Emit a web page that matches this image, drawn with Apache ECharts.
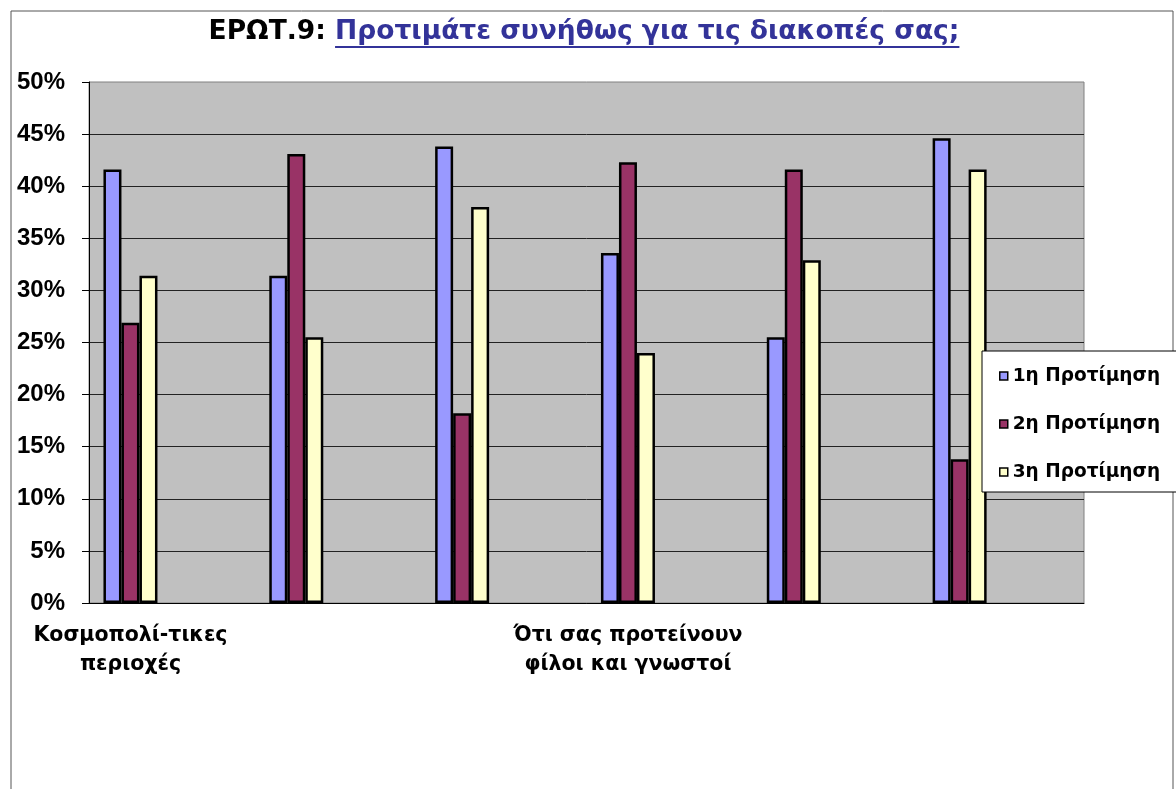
<!DOCTYPE html>
<html>
<head>
<meta charset="utf-8">
<title>ΕΡΩΤ.9</title>
<script src="https://cdn.jsdelivr.net/npm/echarts@6/dist/echarts.min.js"></script>
<style>
  html, body { margin: 0; padding: 0; background: #fff; }
  #chart { width: 1176px; height: 789px; }
</style>
</head>
<body>
<div id="chart"></div>
<script>
// categories: the sheet had blank rows between answers, only every 6th label fits
const categories = [
  'Κοσμοπολί-τικες\nπεριοχές', '', '', '', '', '',
  'Ότι σας προτείνουν\nφίλοι και γνωστοί', '', '', '', '', ''
];
const seriesNames = ['1η Προτίμηση', '2η Προτίμηση', '3η Προτίμηση'];
const pref1 = [41.6, '-', 31.4, '-', 43.8, '-', 33.6, '-', 25.5, '-', 44.6, '-'];
const pref2 = [26.9, '-', 43.1, '-', 18.2, '-', 42.3, '-', 41.6, '-', 13.8, '-'];
const pref3 = [31.4, '-', 25.5, '-', 38.0, '-', 24.0, '-', 32.9, '-', 41.6, '-'];
const colors = ['#9999FF', '#993366', '#FFFFCC'];

const titleLead = 'ΕΡΩΤ.9: ';
const titleMain = 'Προτιμάτε συνήθως για τις διακοπές σας;';

const FONT = '"Liberation Sans", Arial, sans-serif';
const GREEK = '"DejaVu Sans", sans-serif';
const TITLE_FONT = 'bold 26.5px ' + GREEK;

const chart = echarts.init(document.getElementById('chart'));

// measure title parts so the underline sits under the blue part only
const ctx = document.createElement('canvas').getContext('2d');
ctx.font = TITLE_FONT;
const w1 = ctx.measureText(titleLead).width;
const w2 = ctx.measureText(titleMain).width;
const tx = 584 - (w1 + w2) / 2;

function bar(name, data, i) {
  return {
    name: name,
    type: 'bar',
    data: data,
    barWidth: 18,
    barGap: '0%',
    itemStyle: { color: colors[i], borderColor: '#000', borderWidth: 2.5 }
  };
}

const option = {
  backgroundColor: '#fff',
  animation: false,
  textStyle: { fontFamily: FONT },
  grid: {
    left: 89, right: 92, top: 82, bottom: 186,
    show: true, backgroundColor: '#C0C0C0', borderColor: '#808080', borderWidth: 1
  },
  legend: {
    orient: 'vertical',
    left: 982, top: 351,
    padding: [15, 18, 10, 17],
    itemGap: 28,
    itemWidth: 8, itemHeight: 8,
    itemTextGap: 7,
    icon: 'rect',
    backgroundColor: '#fff',
    borderColor: '#000',
    borderWidth: 1,
    itemStyle: { borderColor: '#000', borderWidth: 1.5 },
    textStyle: { fontFamily: GREEK, fontWeight: 'bold', fontSize: 18.5, color: '#000', lineHeight: 20 },
    data: seriesNames
  },
  xAxis: {
    type: 'category',
    data: categories,
    axisLine: { lineStyle: { color: '#000', width: 1 } },
    axisTick: { interval: 0, length: 7, lineStyle: { color: '#000' } },
    axisLabel: {
      interval: 5,
      margin: 18,
      color: '#000',
      fontFamily: GREEK,
      fontWeight: 'bold',
      fontSize: 20.5,
      lineHeight: 29
    }
  },
  yAxis: {
    type: 'value',
    min: 0, max: 50, interval: 5,
    axisLine: { show: true, lineStyle: { color: '#000', width: 1 } },
    axisTick: { show: true, length: 7, lineStyle: { color: '#000' } },
    axisLabel: {
      formatter: '{value}%',
      margin: 24,
      color: '#000',
      fontFamily: FONT,
      fontWeight: 'bold',
      fontSize: 24
    },
    splitLine: { show: true, showMaxLine: false, lineStyle: { color: '#222', width: 1 } }
  },
  graphic: [
    {
      type: 'rect', silent: true, z: -1,
      shape: { x: 11, y: 11, width: 1162, height: 800 },
      style: { fill: 'none', stroke: '#555', lineWidth: 1 }
    },
    {
      type: 'text', x: tx, y: 32,
      style: { text: titleLead, fill: '#000', font: TITLE_FONT, verticalAlign: 'middle' }
    },
    {
      type: 'text', x: tx + w1, y: 32,
      style: { text: titleMain, fill: '#333399', font: TITLE_FONT, verticalAlign: 'middle' }
    },
    {
      type: 'rect', silent: true,
      shape: { x: tx + w1, y: 46, width: w2, height: 2 },
      style: { fill: '#333399' }
    }
  ],
  series: [
    bar(seriesNames[0], pref1, 0),
    bar(seriesNames[1], pref2, 1),
    bar(seriesNames[2], pref3, 2)
  ]
};

chart.setOption(option);
</script>
</body>
</html>
